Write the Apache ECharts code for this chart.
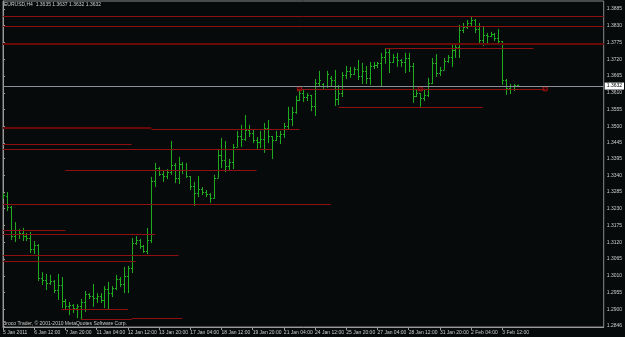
<!DOCTYPE html>
<html>
<head>
<meta charset="utf-8">
<title>EURUSD,H4</title>
<script src="https://cdn.jsdelivr.net/npm/echarts@6/dist/echarts.min.js"></script>
<style>
    html, body { margin: 0; padding: 0; background: #060a0a; }
    #main { width: 625px; height: 337px; }
</style>
</head>
<body>
<div id="main"></div>
<script>
// H4 bars, 5 Jan 2011 04:00 .. 4 Feb 2011 04:00 (bar index = position on the time axis)
var opens = [1.3268,1.3272,1.3236,1.3140,1.3160,1.3150,1.3140,1.3134,1.3098,1.3111,
    1.3003,1.2996,1.2986,1.2993,1.2963,1.2980,1.2927,1.2911,1.2914,1.2904,
    1.2911,1.2924,1.2950,1.2944,1.2937,1.2944,1.2931,1.2967,1.2953,1.2970,
    1.2999,1.2983,1.3009,1.3035,1.3117,1.3127,1.3108,1.3091,1.3127,1.3321,
    1.3363,1.3344,1.3337,1.3350,1.3373,1.3331,1.3377,1.3357,1.3337,1.3304,
    1.3281,1.3295,1.3285,1.3278,1.3265,1.3331,1.3406,1.3390,1.3370,1.3383,
    1.3432,1.3468,1.3459,1.3488,1.3478,1.3455,1.3449,1.3459,1.3495,1.3468,
    1.3455,1.3468,1.3475,1.3501,1.3524,1.3547,1.3587,1.3609,1.3596,1.3603,
    1.3567,1.3642,1.3639,1.3632,1.3659,1.3652,1.3590,1.3609,1.3669,1.3682,
    1.3672,1.3688,1.3665,1.3682,1.3659,1.3698,1.3701,1.3708,1.3728,1.3744,
    1.3711,1.3728,1.3718,1.3711,1.3724,1.3698,1.3600,1.3609,1.3593,1.3603,
    1.3642,1.3708,1.3675,1.3685,1.3714,1.3728,1.3751,1.3760,1.3816,1.3826,
    1.3839,1.3849,1.3819,1.3783,1.3800,1.3796,1.3803,1.3790,1.3780,1.3652,
    1.3626,1.3632,1.3635];
var highs = [1.3281,1.3285,1.3239,1.3186,1.3163,1.3167,1.3150,1.3154,1.3124,1.3114,
    1.3022,1.3016,1.3013,1.2996,1.3016,1.3006,1.2934,1.2924,1.2917,1.2917,
    1.2934,1.2960,1.2953,1.2983,1.2953,1.2953,1.2976,1.2990,1.2976,1.3013,
    1.3006,1.3039,1.3042,1.3134,1.3140,1.3131,1.3111,1.3167,1.3334,1.3380,
    1.3367,1.3354,1.3360,1.3452,1.3380,1.3400,1.3383,1.3380,1.3337,1.3318,
    1.3337,1.3301,1.3291,1.3281,1.3341,1.3423,1.3462,1.3452,1.3393,1.3442,
    1.3485,1.3505,1.3537,1.3505,1.3491,1.3465,1.3485,1.3511,1.3521,1.3468,
    1.3485,1.3485,1.3511,1.3564,1.3564,1.3600,1.3623,1.3623,1.3609,1.3603,
    1.3655,1.3682,1.3642,1.3682,1.3665,1.3685,1.3636,1.3678,1.3698,1.3695,
    1.3695,1.3718,1.3708,1.3698,1.3711,1.3711,1.3711,1.3741,1.3757,1.3754,
    1.3737,1.3741,1.3721,1.3741,1.3741,1.3708,1.3623,1.3609,1.3623,1.3659,
    1.3724,1.3737,1.3695,1.3724,1.3734,1.3770,1.3770,1.3833,1.3839,1.3849,
    1.3859,1.3852,1.3839,1.3826,1.3806,1.3810,1.3806,1.3819,1.3780,1.3655,
    1.3639,1.3639,1.3637];
var lows = [1.3262,1.3222,1.3127,1.3121,1.3131,1.3124,1.3124,1.3085,1.3081,1.2993,
    1.2980,1.2963,1.2980,1.2953,1.2931,1.2904,1.2901,1.2881,1.2888,1.2871,
    1.2868,1.2891,1.2934,1.2908,1.2921,1.2921,1.2904,1.2901,1.2940,1.2963,
    1.2973,1.2953,1.2953,1.3019,1.3111,1.3098,1.3085,1.3081,1.3117,1.3301,
    1.3337,1.3318,1.3327,1.3341,1.3314,1.3311,1.3344,1.3331,1.3291,1.3239,
    1.3268,1.3275,1.3268,1.3249,1.3262,1.3331,1.3363,1.3350,1.3357,1.3360,
    1.3432,1.3432,1.3452,1.3465,1.3445,1.3426,1.3429,1.3413,1.3445,1.3393,
    1.3452,1.3442,1.3462,1.3491,1.3501,1.3541,1.3583,1.3580,1.3583,1.3550,
    1.3534,1.3629,1.3623,1.3626,1.3632,1.3567,1.3570,1.3596,1.3655,1.3659,
    1.3669,1.3652,1.3639,1.3639,1.3636,1.3688,1.3691,1.3632,1.3705,1.3675,
    1.3708,1.3695,1.3695,1.3675,1.3678,1.3577,1.3596,1.3564,1.3583,1.3596,
    1.3639,1.3662,1.3665,1.3685,1.3708,1.3695,1.3724,1.3724,1.3806,1.3819,
    1.3829,1.3806,1.3773,1.3764,1.3767,1.3793,1.3780,1.3767,1.3636,1.3603,
    1.3606,1.3616,1.3632];
var closes = [1.3275,1.3236,1.3140,1.3160,1.3150,1.3140,1.3134,1.3098,1.3111,1.3003,
    1.2996,1.2986,1.2993,1.2963,1.2980,1.2927,1.2911,1.2914,1.2904,1.2911,
    1.2924,1.2950,1.2944,1.2937,1.2944,1.2931,1.2967,1.2953,1.2970,1.2999,
    1.2983,1.3009,1.3035,1.3117,1.3127,1.3108,1.3091,1.3127,1.3321,1.3363,
    1.3344,1.3337,1.3350,1.3373,1.3331,1.3377,1.3357,1.3337,1.3304,1.3281,
    1.3295,1.3285,1.3278,1.3265,1.3331,1.3406,1.3390,1.3370,1.3383,1.3432,
    1.3468,1.3459,1.3488,1.3478,1.3455,1.3449,1.3459,1.3495,1.3468,1.3455,
    1.3468,1.3475,1.3501,1.3524,1.3547,1.3587,1.3609,1.3596,1.3603,1.3567,
    1.3642,1.3652,1.3632,1.3672,1.3652,1.3590,1.3609,1.3669,1.3682,1.3672,
    1.3688,1.3665,1.3682,1.3659,1.3698,1.3701,1.3708,1.3728,1.3744,1.3711,
    1.3728,1.3718,1.3711,1.3724,1.3698,1.3600,1.3609,1.3593,1.3603,1.3642,
    1.3708,1.3675,1.3685,1.3714,1.3728,1.3751,1.3760,1.3816,1.3826,1.3839,
    1.3849,1.3819,1.3783,1.3800,1.3796,1.3803,1.3790,1.3780,1.3652,1.3626,
    1.3632,1.3636,1.3632];

var symbolName = 'EURUSD,H4';
var barsPerLabel = 8;
var lastSlot = 154;   // empty space right of the last bar
var timeLabels = ['5 Jan 2011', '6 Jan 12:00', '7 Jan 20:00', '11 Jan 04:00', '12 Jan 12:00',
    '13 Jan 20:00', '17 Jan 04:00', '18 Jan 12:00', '19 Jan 20:00', '21 Jan 04:00',
    '24 Jan 12:00', '25 Jan 20:00', '27 Jan 04:00', '28 Jan 12:00', '31 Jan 20:00',
    '2 Feb 04:00', '3 Feb 12:00'];
var priceTicks = [1.2846, 1.2900, 1.2955, 1.3010, 1.3065, 1.3120, 1.3175, 1.3230, 1.3285, 1.3340,
    1.3395, 1.3445, 1.3500, 1.3555, 1.3610, 1.3665, 1.3720, 1.3775, 1.3830, 1.3885];
var priceMin = 1.2842, priceMax = 1.3911;

// horizontal levels: [price, from bar, to bar]
var thinLevels = [[1.3862, 0, 154], [1.3829, 0, 154], [1.3757, 98, 136], [1.3623, 75.5, 139],
    [1.3564, 86, 123], [1.3491, 38, 76], [1.3441, 0, 33], [1.3425, 0, 69], [1.3356, 16, 65],
    [1.3244, 0, 84], [1.3159, 0, 16], [1.3147, 0, 39], [1.3077, 0, 45], [1.3058, 0, 34],
    [1.2900, 15, 32], [1.2868, 20, 33], [1.2872, 33, 46]];
var heavyLevels = [[1.3770, 0, 154], [1.3495, 0, 38]];
var levelMarks = [[76, 1.3623], [107, 1.3623], [139, 1.3623]];

var last = opens.length - 1;
var lastPrice = closes[last];

var bars = opens.map(function (o, i) {
    return [i, o, highs[i], lows[i], closes[i]];
});
var labelBars = timeLabels.map(function (t, i) { return i * barsPerLabel; });

function segs(list) {
    return list.map(function (l) {
        return [{ coord: [l[1], l[0]] }, { coord: [l[2], l[0]] }];
    });
}

var barColor = '#1eac1e';
var axisColor = '#9a9a9a';
var textColor = '#cdcdcd';

var chart = echarts.init(document.getElementById('main'));
var option = {
    backgroundColor: '#060a0a',
    animation: false,
    textStyle: { fontFamily: 'Liberation Sans' },
    grid: { left: 2, right: 19, top: 1, bottom: 10, show: true, borderColor: '#8a8a8a', borderWidth: 1 },
    xAxis: {
        type: 'value', min: 0, max: lastSlot,
        axisLine: { show: true, onZero: false, lineStyle: { color: axisColor } },
        splitLine: { show: false },
        axisTick: { show: true, length: 3, customValues: labelBars, lineStyle: { color: axisColor } },
        axisLabel: {
            customValues: labelBars,
            formatter: function (v) { return timeLabels[Math.round(v / barsPerLabel)]; },
            align: 'left', margin: 3, fontSize: 5, color: textColor
        }
    },
    yAxis: {
        type: 'value', position: 'right', min: priceMin, max: priceMax,
        axisLine: { show: true, lineStyle: { color: axisColor } },
        splitLine: { show: false },
        axisTick: { show: true, length: 2, customValues: priceTicks, lineStyle: { color: axisColor } },
        axisLabel: {
            customValues: priceTicks,
            formatter: function (v) { return v.toFixed(4); },
            margin: 3, fontSize: 5, color: textColor
        }
    },
    graphic: [
        {
            type: 'text', left: 4, top: 2,
            style: {
                text: symbolName + '  ' + [opens[last], highs[last], lows[last], closes[last]].map(function (v) { return v.toFixed(4); }).join(' '),
                fill: textColor, fontSize: 5, fontFamily: 'Liberation Sans'
            }
        },
        {
            type: 'text', left: 3, top: 321,
            style: {
                text: 'Broco Trader, \u00a9 2001-2010 MetaQuotes Software Corp.',
                fill: textColor, fontSize: 5, fontFamily: 'Liberation Sans'
            }
        }
    ],
    series: [
        {
            type: 'line', data: [], silent: true,
            markLine: {
                symbol: 'none', silent: true, animation: false, precision: 4,
                label: { show: false },
                lineStyle: { color: '#8e1010', width: 1, type: 'solid' },
                data: segs(thinLevels)
            }
        },
        {
            type: 'line', data: [], silent: true,
            markLine: {
                symbol: 'none', silent: true, animation: false, precision: 4,
                label: { show: false },
                lineStyle: { color: '#6a0808', width: 2, type: 'solid' },
                data: segs(heavyLevels)
            }
        },
        {
            type: 'custom',
            data: bars,
            encode: { x: 0, y: [1, 2, 3, 4] },
            clip: true,
            z: 3,
            renderItem: function (params, api) {
                var x = Math.round(api.coord([api.value(0), 0])[0]) + 0.5;
                var yo = Math.round(api.coord([0, api.value(1)])[1]) + 0.5;
                var yh = api.coord([0, api.value(2)])[1];
                var yl = api.coord([0, api.value(3)])[1];
                var yc = Math.round(api.coord([0, api.value(4)])[1]) + 0.5;
                var st = { stroke: barColor, lineWidth: 1 };
                return {
                    type: 'group',
                    children: [
                        { type: 'line', shape: { x1: x, y1: yh, x2: x, y2: yl }, style: st },
                        { type: 'line', shape: { x1: x - 1.5, y1: yo, x2: x, y2: yo }, style: st },
                        { type: 'line', shape: { x1: x, y1: yc, x2: x + 1.5, y2: yc }, style: st }
                    ]
                };
            }
        },
        {
            type: 'scatter', data: levelMarks, silent: true, z: 4,
            symbol: 'rect', symbolSize: 4,
            itemStyle: { color: '#3a0000', borderColor: '#c41414', borderWidth: 1 }
        },
        {
            type: 'line', data: [], silent: true, z: 5,
            markLine: {
                symbol: 'none', silent: true, animation: false, precision: 4,
                lineStyle: { color: '#8c9096', width: 1, type: 'solid' },
                label: {
                    show: true, position: 'end', distance: 1,
                    formatter: function () { return lastPrice.toFixed(4); },
                    backgroundColor: '#ffffff', color: '#000000',
                    fontSize: 5, padding: [1, 2, 1, 2]
                },
                data: [{ yAxis: lastPrice }]
            }
        }
    ]
};
chart.setOption(option);
</script>
</body>
</html>
